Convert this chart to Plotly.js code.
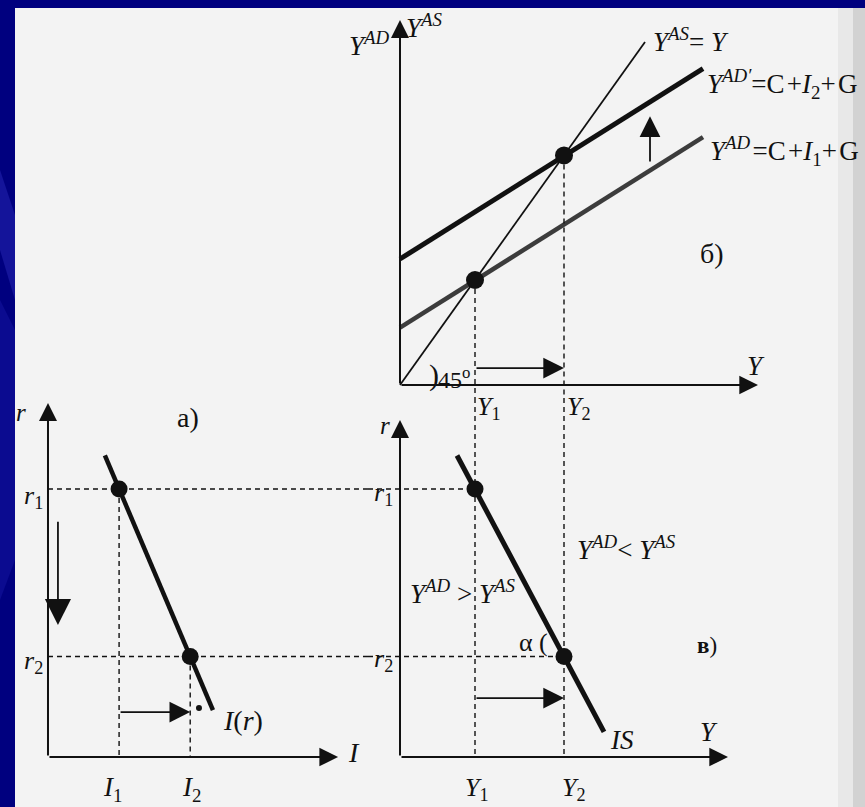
<!DOCTYPE html>
<html><head><meta charset="utf-8">
<script src="https://cdn.plot.ly/plotly-3.0.1.min.js"></script>
<style>html,body{margin:0;padding:0;background:#00007f;overflow:hidden}#chart{width:865px;height:807px}</style>
</head><body><div id="chart"></div>
<script>
// ---------- Data (schematic values) ----------
// Diagram б: Keynesian cross (x: Y, y: Y^AD / Y^AS)
const outputLevels = [75, 164];          // Y1, Y2
const line45X = [0, 245];
const line45Y = [0, 245];
const adLowX = [0, 303];                  // Y^AD = C + I1 + G
const adLowY = [41, 177];
const adHighX = [0, 303];                 // Y^AD' = C + I2 + G
const adHighY = [90, 226];
const shiftUpX = [250, 250];              // upward shift arrow (tail, tip)
const shiftUpY = [158.6, 192];
const shiftRightB = [12.1, 12.1];         // y of the arrow Y1 -> Y2
const axisB_X = [358];                    // x-axis end
const axisB_Y = [260.7];                  // y-axis end
// Diagram в: IS curve (x: Y, y: r)
const rates = [8, 3];                     // r1, r2
const isY = [57, 204];
const isR = [9.0, 0.75];
const shiftRightV = [1.76, 1.76];
const axisV_X = [328];
const axisV_R = [10.06];
// Diagram а: investment function (x: I, y: r)
const investment = [3, 6];                // I1, I2
const invI = [2.4, 6.96];
const invR = [9.0, 1.4];
const shiftDownI = [0.42, 0.42];
const shiftDownR = [7.07, 3.94];
const shiftRightA = [1.34, 1.34];
const blobI = [6.37];
const blobR = [1.46];
const axisA_I = [12.24];
const axisA_R = [10.57];

// ---------- Layout helpers ----------
const W = 865, H = 807;
const px = v => v / W, py = v => 1 - v / H;
const yB = [-9.29, 269.29];   // range of б y axis
const yV = [-1.4925, 10.716]; // range of shared r axis
const xB = [-32, 465];        // range of shared Y axis
const xA = [-1.392, 13.502];  // range of I axis

const INK = '#111111';
const DASH = '5px,4px';
const traces = [];
const ann = [];
function line(x, y, xa, ya, color, width, dash) {
  traces.push({type:'scatter', mode:'lines', x, y, xaxis:xa, yaxis:ya,
    line:{color, width, dash: dash || 'solid'}, hoverinfo:'skip', showlegend:false});
}
function dots(x, y, xa, ya, size) {
  traces.push({type:'scatter', mode:'markers', x, y, xaxis:xa, yaxis:ya,
    marker:{color:INK, size: size || 16}, hoverinfo:'skip', showlegend:false, cliponaxis:false});
}
// arrow from (x[0],y[0]) to (x[1],y[1]) in data coordinates
function arrow(x, y, xa, ya, width, size) {
  ann.push({x:x[1], y:y[1], ax:x[0], ay:y[0], xref:xa, yref:ya, axref:xa, ayref:ya,
    text:'', showarrow:true, arrowhead:2, arrowsize:size, arrowwidth:width,
    arrowcolor:INK, standoff:0, startstandoff:0});
}

// --- Diagram б ---
arrow([0, 0], [0, axisB_Y[0]], 'x', 'y', 2, 1.8);
arrow([0, axisB_X[0]], [0, 0], 'x', 'y', 2.2, 1.7);
line(line45X, line45Y, 'x', 'y', INK, 1.8);
line(adLowX, adLowY, 'x', 'y', '#3c3c3c', 4.5);
line(adHighX, adHighY, 'x', 'y', INK, 5);
line([outputLevels[0], outputLevels[0], null, outputLevels[1], outputLevels[1]],
     [outputLevels[0], yB[0], null, outputLevels[1], yB[0]], 'x', 'y', INK, 1.4, DASH);
dots(outputLevels, outputLevels, 'x', 'y', 18);
arrow(shiftUpX, shiftUpY, 'x', 'y', 1.8, 2.3);
arrow(outputLevels, shiftRightB, 'x', 'y', 1.8, 2.3);

// --- Diagram в ---
arrow([0, 0], [0, axisV_R[0]], 'x', 'y2', 2, 1.8);
arrow([0, axisV_X[0]], [0, 0], 'x', 'y2', 2.2, 1.7);
line([outputLevels[0], outputLevels[0], null, outputLevels[1], outputLevels[1]],
     [yV[1], 0, null, yV[1], 0], 'x', 'y2', INK, 1.4, DASH);
line([xB[0], outputLevels[0], null, xB[0], outputLevels[1]],
     [rates[0], rates[0], null, rates[1], rates[1]], 'x', 'y2', INK, 1.4, DASH);
line(isY, isR, 'x', 'y2', INK, 5);
dots(outputLevels, rates, 'x', 'y2', 17);
arrow(outputLevels, shiftRightV, 'x', 'y2', 1.8, 2.3);

// --- Diagram а ---
arrow([0, 0], [0, axisA_R[0]], 'x3', 'y2', 2, 1.8);
arrow([0, axisA_I[0]], [0, 0], 'x3', 'y2', 2.2, 1.7);
line([0, xA[1], null, 0, xA[1]], [rates[0], rates[0], null, rates[1], rates[1]], 'x3', 'y2', INK, 1.4, DASH);
line([investment[0], investment[0], null, investment[1], investment[1]],
     [rates[0], 0, null, rates[1], 0], 'x3', 'y2', INK, 1.4, DASH);
line(invI, invR, 'x3', 'y2', INK, 4.5);
dots(investment, rates, 'x3', 'y2', 17);
arrow(shiftDownI, shiftDownR, 'x3', 'y2', 1.8, 2.9);
arrow(investment, shiftRightA, 'x3', 'y2', 1.8, 2.3);
dots(blobI, blobR, 'x3', 'y2', 6);

// ---------- Text ----------
const SERIF = 'Liberation Serif, DejaVu Serif, serif';
function t(text, x, y, size, xanchor) {
  ann.push({text, x: px(x), y: py(y), xref:'paper', yref:'paper',
    showarrow:false, xanchor: xanchor || 'left', yanchor:'middle',
    font:{family:SERIF, size, color:INK}});
}
const hs = '\u200A';
// б
t('<i>Y</i><sup><i>AD</i></sup>', 392, 44, 27, 'right');
t('<i>Y</i><sup><i>AS</i></sup>', 404, 26, 27, 'left');
t('<i>Y</i><sup><i>AS</i></sup>= <i>Y</i>', 651, 40, 27, 'left');
t('<i>Y</i><sup><i>AD′</i></sup>=C' + hs + '+<i>I</i><sub>2</sub>+' + hs + 'G', 705, 84, 27, 'left');
t('<i>Y</i><sup><i>AD</i></sup>' + hs + '=C' + hs + '+<i>I</i><sub>1</sub>+' + hs + 'G', 708, 151, 27, 'left');
t('б)', 698, 254, 28, 'left');
t('<i>Y</i>', 745, 366, 27, 'left');
t(')', 427, 375, 30, 'left');
t('45<sup>o</sup>', 436, 378, 24, 'left');
t('<i>Y</i><sub>1</sub>', 475, 408, 26, 'left');
t('<i>Y</i><sub>2</sub>', 565, 408, 26, 'left');
// в
t('<i>r</i>', 392, 425, 25, 'right');
t('<i>r</i><sub>1</sub>', 395, 494, 26, 'right');
t('<i>r</i><sub>2</sub>', 395, 660, 26, 'right');
t('<i>Y</i><sup><i>AD</i></sup>< <i>Y</i><sup><i>AS</i></sup>', 575, 548, 27, 'left');
t('<i>Y</i><sup><i>AD</i></sup> > <i>Y</i><sup><i>AS</i></sup>', 408, 592, 27, 'left');
t('α (', 517, 642, 26, 'left');
t('<b>в</b>)', 695, 645, 23, 'left');
t('<i>IS</i>', 608, 740, 27, 'left');
t('<i>Y</i>', 698, 732, 27, 'left');
t('<i>Y</i><sub>1</sub>', 463, 789, 26, 'left');
t('<i>Y</i><sub>2</sub>', 560, 789, 26, 'left');
// а
t('<i>r</i>', 14, 413, 25, 'left');
t('а)', 175, 417, 28, 'left');
t('<i>r</i><sub>1</sub>', 22, 497, 26, 'left');
t('<i>r</i><sub>2</sub>', 22, 662, 26, 'left');
t('<i>I</i>(<i>r</i>)', 221, 720, 28, 'left');
t('<i>I</i>', 346, 752, 28, 'left');
t('<i>I</i><sub>1</sub>', 101, 789, 27, 'left');
t('<i>I</i><sub>2</sub>', 180, 789, 27, 'left');

// ---------- Frame (slide background + scanned page) ----------
const shapes = [
  {type:'path', xref:'paper', yref:'paper', layer:'below',
   path:`M0,${py(170)} L${px(15)},${py(215)} L${px(15)},${py(300)} L0,${py(250)} Z`,
   fillcolor:'#14149a', line:{width:0}},
  {type:'path', xref:'paper', yref:'paper', layer:'below',
   path:`M0,${py(300)} L${px(15)},${py(330)} L${px(15)},${py(560)} L0,${py(600)} Z`,
   fillcolor:'#0b0b90', line:{width:0}},
  {type:'rect', xref:'paper', yref:'paper', layer:'below',
   x0:px(15), x1:1, y0:0, y1:py(8), fillcolor:'#f3f3f3', line:{width:0}},
  {type:'rect', xref:'paper', yref:'paper', layer:'below',
   x0:px(838), x1:1, y0:0, y1:py(8), fillcolor:'#e8e8e8', line:{width:0}},
  {type:'rect', xref:'paper', yref:'paper', layer:'below',
   x0:px(853), x1:1, y0:0, y1:py(8), fillcolor:'#d2d2d2', line:{width:0}}
];

const hidden = {visible:false, fixedrange:true};
const layout = {
  width: W, height: H, margin:{l:0, r:0, t:0, b:0, pad:0},
  paper_bgcolor:'#00007f', plot_bgcolor:'rgba(0,0,0,0)',
  showlegend:false, hovermode:false,
  xaxis: Object.assign({domain:[px(368), 1], range:xB, anchor:'y'}, hidden),
  yaxis: Object.assign({domain:[py(398), py(8)], range:yB, anchor:'x'}, hidden),
  yaxis2: Object.assign({domain:[0, py(398)], range:yV, anchor:'x'}, hidden),
  xaxis3: Object.assign({domain:[px(15), px(368)], range:xA, anchor:'y2'}, hidden),
  annotations: ann, shapes
};
Plotly.newPlot('chart', traces, layout, {staticPlot:true, displayModeBar:false});
</script></body></html>
